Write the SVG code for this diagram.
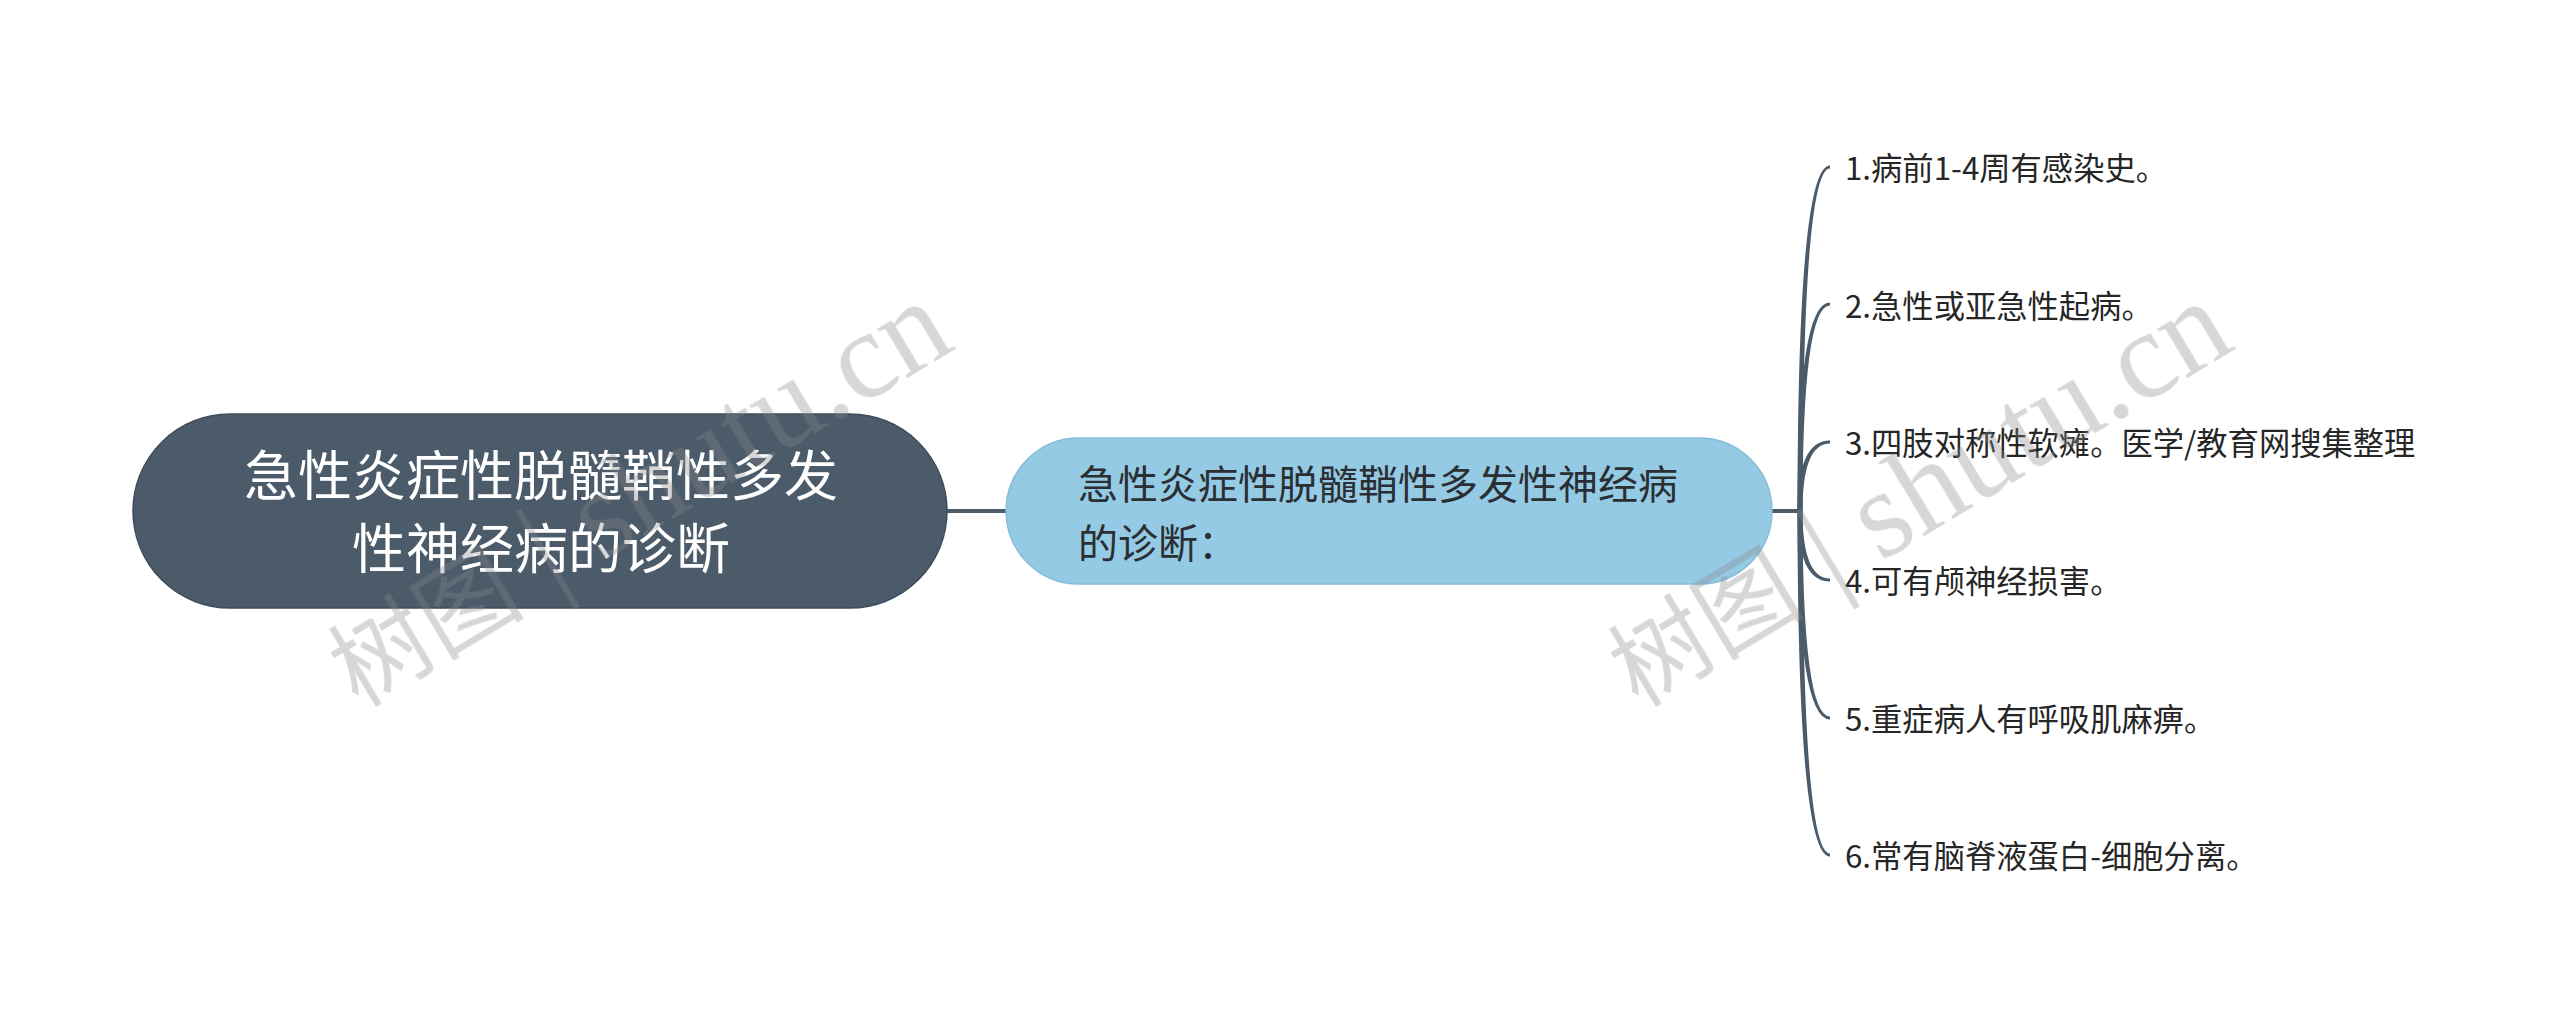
<svg xmlns="http://www.w3.org/2000/svg" width="2560" height="1023" viewBox="0 0 2560 1023">
<style>
.bg{fill:#ffffff}
.root{fill:#4b5b6a;stroke:#3f4d5a;stroke-width:1.5}
.sub{fill:#94cae4;stroke:#88bdd9;stroke-width:1.5}
.rt{font-family:"Noto Sans CJK SC","Noto Sans",sans-serif;font-size:54px;fill:#ffffff;text-anchor:middle}
.st{font-family:"Noto Sans CJK SC","Noto Sans",sans-serif;font-size:40px;fill:#2b2f33}
.ct{font-family:"Noto Sans CJK SC","Noto Sans",sans-serif;font-size:31.3px;fill:#262626}
.ln{stroke:#4b5b6a;stroke-width:4;fill:none}
.br{fill:#4b5b6a;stroke:none}
.wm{fill:#888888;opacity:0.34}
.wmc{font-family:"Noto Sans CJK SC",sans-serif;font-size:98px}
.wml{font-family:"Liberation Serif",serif;font-size:124px}
</style>
<rect class="bg" x="0" y="0" width="2560" height="1023"/>
<g id="connectors">
<path class="ln" d="M940 511 H1010"/>
<path class="ln" d="M1768 511 H1801"/>
<path class="br" d="M1797.5 511 Q1797.5 165.5 1830 165.5 L1830 168.5 Q1802.5 168.5 1802.5 511 Z"/>
<path class="br" d="M1797.5 511 Q1797.5 302.5 1830 302.5 L1830 305.5 Q1802.5 305.5 1802.5 511 Z"/>
<path class="br" d="M1797.5 511 Q1797.5 440.5 1830 440.5 L1830 443.5 Q1802.5 443.5 1802.5 511 Z"/>
<path class="br" d="M1797.5 511 Q1797.5 581.5 1830 581.5 L1830 578.5 Q1802.5 578.5 1802.5 511 Z"/>
<path class="br" d="M1797.5 511 Q1797.5 719.5 1830 719.5 L1830 716.5 Q1802.5 716.5 1802.5 511 Z"/>
<path class="br" d="M1797.5 511 Q1797.5 856.5 1830 856.5 L1830 853.5 Q1802.5 853.5 1802.5 511 Z"/>
</g>
<g id="node-root">
<rect class="root" x="133" y="414" width="814" height="194" rx="97" ry="97"/>
<text class="rt" x="541" y="496">急性炎症性脱髓鞘性多发</text>
<text class="rt" x="541" y="569">性神经病的诊断</text>
</g>
<g id="node-main">
<rect class="sub" x="1006" y="438" width="766" height="146" rx="73" ry="73"/>
<text class="st" x="1078" y="499">急性炎症性脱髓鞘性多发性神经病</text>
<text class="st" x="1078" y="558">的诊断：</text>
</g>
<g id="node-c1"><text class="ct" x="1845" y="180">1.病前1-4周有感染史。</text></g>
<g id="node-c2"><text class="ct" x="1845" y="318">2.急性或亚急性起病。</text></g>
<g id="node-c3"><text class="ct" x="1845" y="455">3.四肢对称性软瘫。医学/教育网搜集整理</text></g>
<g id="node-c4"><text class="ct" x="1845" y="593">4.可有颅神经损害。</text></g>
<g id="node-c5"><text class="ct" x="1845" y="731">5.重症病人有呼吸肌麻痹。</text></g>
<g id="node-c6"><text class="ct" x="1845" y="868">6.常有脑脊液蛋白-细胞分离。</text></g>
<g id="watermarks" class="wm">
<text transform="translate(358,708) rotate(-31)"><tspan class="wmc">树图</tspan><tspan class="wml"> | shutu.cn</tspan></text>
<text transform="translate(1638,708) rotate(-31)"><tspan class="wmc">树图</tspan><tspan class="wml"> | shutu.cn</tspan></text>
</g>
</svg>
